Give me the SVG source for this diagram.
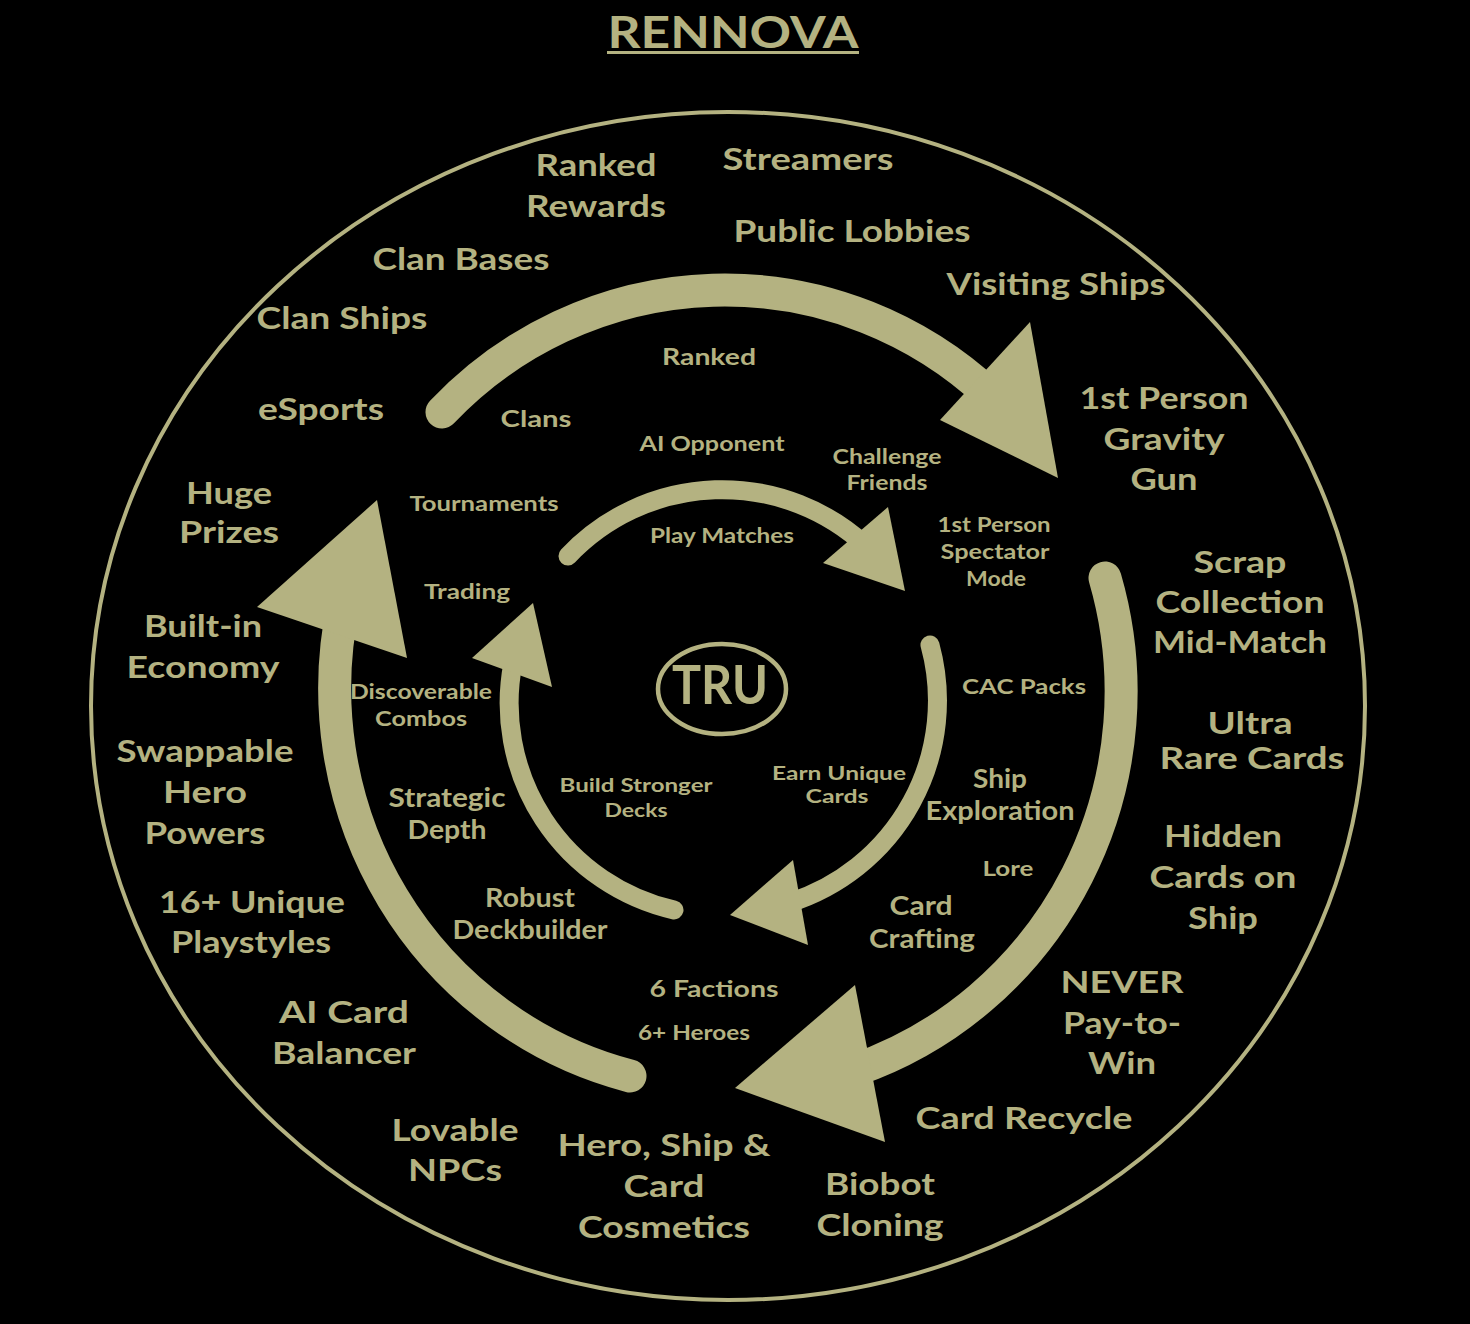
<svg xmlns="http://www.w3.org/2000/svg" width="1470" height="1324" viewBox="0 0 1470 1324">
<style>
text{font-family:"Lato","Open Sans","DejaVu Sans",sans-serif;font-weight:bold;fill:#b4b281;text-anchor:middle}
.t1{font-size:31px}
.t2{font-size:23px}
.t3{font-size:21px}
.t4{font-size:26px}
.arc{fill:none;stroke:#b4b281;stroke-linecap:round}
.big{stroke-width:33}
.small{stroke-width:19}
.head{fill:#b4b281}
</style>
<rect width="1470" height="1324" fill="#000"/>
<g id="title">
<text x="733" y="48" style="font-size:44px" textLength="251" lengthAdjust="spacingAndGlyphs">RENNOVA</text>
<rect x="607" y="51" width="252" height="3" fill="#b4b281"/>
</g>
<ellipse id="outer-ring" cx="728" cy="706" rx="637" ry="594" fill="none" stroke="#b4b281" stroke-width="4"/>
<g id="connectors">
<path class="arc big" d="M 442 412 A 393 400 0 0 1 990 395"/>
<polygon class="head" points="1030,322 1058,478 940,420"/>
<path class="arc big" d="M 1105 578 A 393 400 0 0 1 855 1070"/>
<polygon class="head" points="855,985 885,1142 735,1088"/>
<path class="arc big" d="M 630 1076 A 393 400 0 0 1 344 602"/>
<polygon class="head" points="377,500 407,658 257,607"/>
<path class="arc small" d="M 568 556 A 212 212 0 0 1 866 546"/>
<polygon class="head" points="888,507 905,591 823,563"/>
<path class="arc small" d="M 930 645 A 212 212 0 0 1 789 903"/>
<polygon class="head" points="793,860 808,945 730,915"/>
<path class="arc small" d="M 674 910 A 212 212 0 0 1 513 663"/>
<polygon class="head" points="533,603 552,687 472,658"/>
</g>
<g id="center">
<ellipse cx="722" cy="689" rx="64" ry="45" fill="none" stroke="#b4b281" stroke-width="4.5"/>
<text x="720" y="704" style="font-size:54px" textLength="96" lengthAdjust="spacingAndGlyphs">TRU</text>
</g>
<g id="outer-labels" class="t1">
<text x="596" y="176" textLength="121" lengthAdjust="spacingAndGlyphs">Ranked</text><text x="596" y="217" textLength="140" lengthAdjust="spacingAndGlyphs">Rewards</text>
<text x="808" y="170" textLength="171" lengthAdjust="spacingAndGlyphs">Streamers</text>
<text x="852" y="242" textLength="237" lengthAdjust="spacingAndGlyphs">Public Lobbies</text>
<text x="461" y="270" textLength="177" lengthAdjust="spacingAndGlyphs">Clan Bases</text>
<text x="1056" y="295" textLength="219" lengthAdjust="spacingAndGlyphs">Visiting Ships</text>
<text x="342" y="329" textLength="171" lengthAdjust="spacingAndGlyphs">Clan Ships</text>
<text x="321" y="420" textLength="126" lengthAdjust="spacingAndGlyphs">eSports</text>
<text x="1164" y="409" textLength="169" lengthAdjust="spacingAndGlyphs">1st Person</text><text x="1164" y="450" textLength="121" lengthAdjust="spacingAndGlyphs">Gravity</text><text x="1164" y="490" textLength="67" lengthAdjust="spacingAndGlyphs">Gun</text>
<text x="229" y="504" textLength="86" lengthAdjust="spacingAndGlyphs">Huge</text><text x="229" y="543" textLength="100" lengthAdjust="spacingAndGlyphs">Prizes</text>
<text x="1240" y="573" textLength="93" lengthAdjust="spacingAndGlyphs">Scrap</text><text x="1240" y="613" textLength="169" lengthAdjust="spacingAndGlyphs">Collection</text><text x="1240" y="653" textLength="174" lengthAdjust="spacingAndGlyphs">Mid-Match</text>
<text x="203" y="637" textLength="118" lengthAdjust="spacingAndGlyphs">Built-in</text><text x="203" y="678" textLength="153" lengthAdjust="spacingAndGlyphs">Economy</text>
<text x="1250" y="734" textLength="85" lengthAdjust="spacingAndGlyphs">Ultra</text><text x="1252" y="769" textLength="185" lengthAdjust="spacingAndGlyphs">Rare Cards</text>
<text x="205" y="762" textLength="177" lengthAdjust="spacingAndGlyphs">Swappable</text><text x="205" y="803" textLength="84" lengthAdjust="spacingAndGlyphs">Hero</text><text x="205" y="844" textLength="121" lengthAdjust="spacingAndGlyphs">Powers</text>
<text x="1223" y="847" textLength="118" lengthAdjust="spacingAndGlyphs">Hidden</text><text x="1223" y="888" textLength="147" lengthAdjust="spacingAndGlyphs">Cards on</text><text x="1223" y="929" textLength="70" lengthAdjust="spacingAndGlyphs">Ship</text>
<text x="252" y="913" textLength="186" lengthAdjust="spacingAndGlyphs">16+ Unique</text><text x="251" y="953" textLength="160" lengthAdjust="spacingAndGlyphs">Playstyles</text>
<text x="1122" y="993" textLength="123" lengthAdjust="spacingAndGlyphs">NEVER</text><text x="1122" y="1034" textLength="118" lengthAdjust="spacingAndGlyphs">Pay-to-</text><text x="1122" y="1074" textLength="68" lengthAdjust="spacingAndGlyphs">Win</text>
<text x="344" y="1023" textLength="130" lengthAdjust="spacingAndGlyphs">AI Card</text><text x="344" y="1064" textLength="144" lengthAdjust="spacingAndGlyphs">Balancer</text>
<text x="1024" y="1129" textLength="217" lengthAdjust="spacingAndGlyphs">Card Recycle</text>
<text x="455" y="1141" textLength="127" lengthAdjust="spacingAndGlyphs">Lovable</text><text x="455" y="1181" textLength="94" lengthAdjust="spacingAndGlyphs">NPCs</text>
<text x="664" y="1156" textLength="213" lengthAdjust="spacingAndGlyphs">Hero, Ship &amp;</text><text x="664" y="1197" textLength="81" lengthAdjust="spacingAndGlyphs">Card</text><text x="664" y="1238" textLength="172" lengthAdjust="spacingAndGlyphs">Cosmetics</text>
<text x="880" y="1195" textLength="110" lengthAdjust="spacingAndGlyphs">Biobot</text><text x="880" y="1236" textLength="127" lengthAdjust="spacingAndGlyphs">Cloning</text>
</g>
<g id="inner-labels">
<text class="t2" x="709" y="365" textLength="94" lengthAdjust="spacingAndGlyphs">Ranked</text>
<text class="t2" x="536" y="427" textLength="71" lengthAdjust="spacingAndGlyphs">Clans</text>
<text class="t3" x="712" y="451" textLength="145" lengthAdjust="spacingAndGlyphs">AI Opponent</text>
<text class="t3" x="887" y="464" textLength="109" lengthAdjust="spacingAndGlyphs">Challenge</text><text class="t3" x="887" y="490" textLength="81" lengthAdjust="spacingAndGlyphs">Friends</text>
<text class="t3" x="484" y="511" textLength="149" lengthAdjust="spacingAndGlyphs">Tournaments</text>
<text class="t3" x="994" y="532" textLength="113" lengthAdjust="spacingAndGlyphs">1st Person</text><text class="t3" x="995" y="559" textLength="109" lengthAdjust="spacingAndGlyphs">Spectator</text><text class="t3" x="996" y="586" textLength="60" lengthAdjust="spacingAndGlyphs">Mode</text>
<text class="t3" x="467" y="599" textLength="86" lengthAdjust="spacingAndGlyphs">Trading</text>
<text class="t3" x="722" y="543" textLength="144" lengthAdjust="spacingAndGlyphs">Play Matches</text>
<text class="t3" x="1024" y="694" textLength="124" lengthAdjust="spacingAndGlyphs">CAC Packs</text>
<text class="t3" x="421" y="699" textLength="142" lengthAdjust="spacingAndGlyphs">Discoverable</text><text class="t3" x="421" y="726" textLength="92" lengthAdjust="spacingAndGlyphs">Combos</text>
<text class="t4" x="1000" y="788" textLength="54" lengthAdjust="spacingAndGlyphs">Ship</text><text class="t4" x="1000" y="820" textLength="149" lengthAdjust="spacingAndGlyphs">Exploration</text>
<text style="font-size:19px" x="636" y="792" textLength="153" lengthAdjust="spacingAndGlyphs">Build Stronger</text><text style="font-size:19px" x="636" y="817" textLength="63" lengthAdjust="spacingAndGlyphs">Decks</text>
<text style="font-size:19px" x="839" y="780" textLength="134" lengthAdjust="spacingAndGlyphs">Earn Unique</text><text style="font-size:19px" x="837" y="803" textLength="63" lengthAdjust="spacingAndGlyphs">Cards</text>
<text class="t4" x="447" y="807" textLength="117" lengthAdjust="spacingAndGlyphs">Strategic</text><text class="t4" x="447" y="839" textLength="79" lengthAdjust="spacingAndGlyphs">Depth</text>
<text class="t3" x="1008" y="876" textLength="51" lengthAdjust="spacingAndGlyphs">Lore</text>
<text class="t4" x="530" y="907" textLength="90" lengthAdjust="spacingAndGlyphs">Robust</text><text class="t4" x="530" y="939" textLength="155" lengthAdjust="spacingAndGlyphs">Deckbuilder</text>
<text class="t4" x="921" y="915" textLength="63" lengthAdjust="spacingAndGlyphs">Card</text><text class="t4" x="922" y="948" textLength="106" lengthAdjust="spacingAndGlyphs">Crafting</text>
<text class="t2" x="714" y="997" textLength="129" lengthAdjust="spacingAndGlyphs">6 Factions</text>
<text class="t3" x="694" y="1040" textLength="112" lengthAdjust="spacingAndGlyphs">6+ Heroes</text>
</g>
</svg>
